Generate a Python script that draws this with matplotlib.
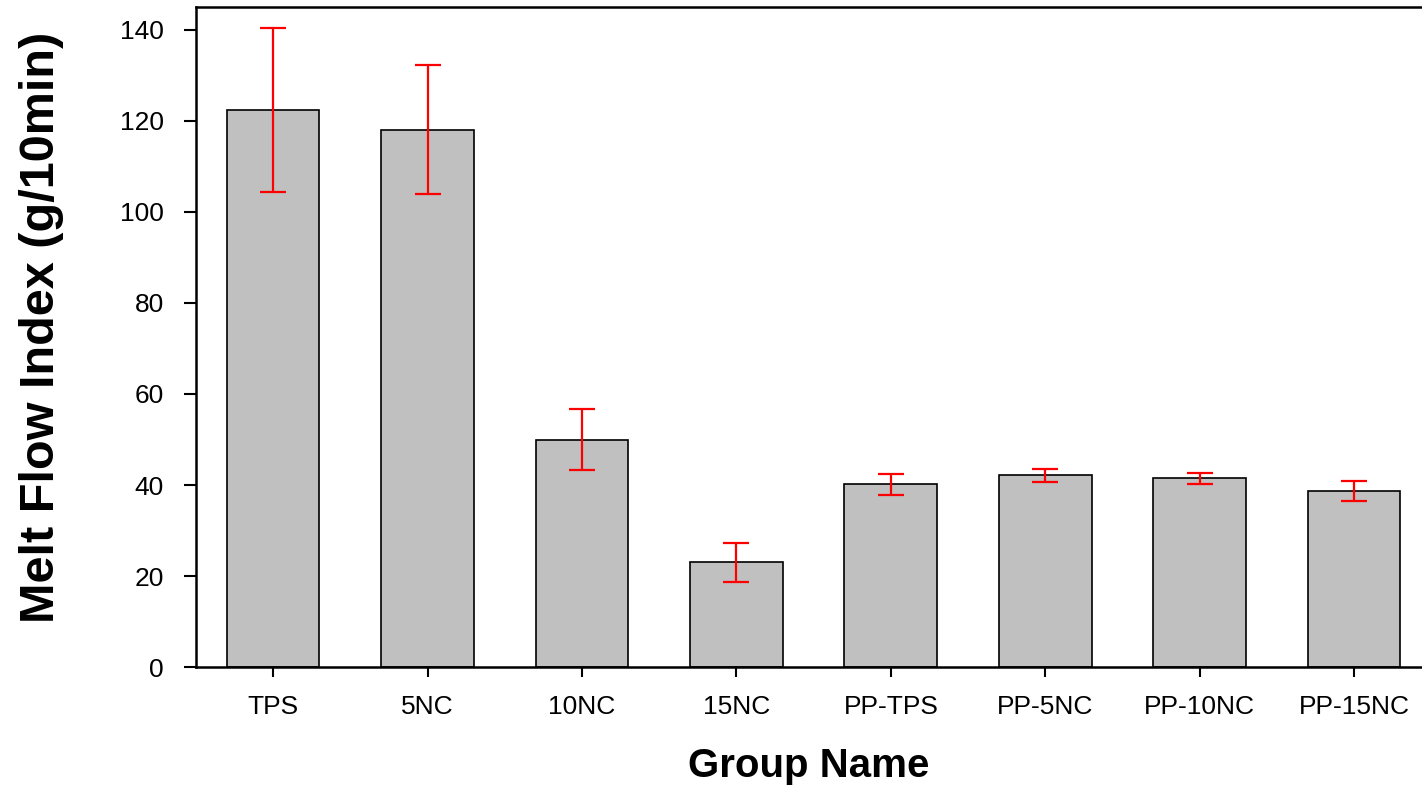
import matplotlib
matplotlib.use("Agg")
import matplotlib.pyplot as plt
import numpy as np

plt.rcParams.update({
    "font.family": ["Liberation Sans", "DejaVu Sans"],
})

# Данные
groups = ["TPS", "5NC", "10NC", "15NC", "PP-TPS", "PP-5NC", "PP-10NC", "PP-15NC"]
mfi = [122.4, 118.1, 50.0, 23.0, 40.2, 42.1, 41.5, 38.6]
mfi_err = [18.1, 14.2, 6.8, 4.3, 2.3, 1.5, 1.2, 2.2]
yticks = [0, 20, 40, 60, 80, 100, 120, 140]

fig = plt.figure(figsize=(14.22, 7.96), dpi=100)
ax = fig.add_axes([0.1378, 0.162, 0.8622, 0.829])

x = np.arange(len(groups))
ax.bar(x, mfi, width=0.6, color="#c0c0c0", edgecolor="black", linewidth=1.2,
       yerr=mfi_err, ecolor="red",
       error_kw=dict(elinewidth=1.6, capsize=9.5, capthick=1.6))

ax.set_xlim(-0.5, 7.44)
ax.set_ylim(0, 145)
ax.set_yticks(yticks)
ax.set_xticks(x)
ax.set_xticklabels(groups)

ax.spines["right"].set_visible(False)
for s in ("left", "bottom", "top"):
    ax.spines[s].set_linewidth(1.8)

ax.tick_params(axis="y", direction="out", length=9, width=1.5,
               labelsize=19, pad=14)
ax.tick_params(axis="x", direction="out", length=7, width=1.5,
               labelsize=19, pad=13)

ax.set_ylabel("Melt Flow Index (g/10min)", fontsize=35, fontweight="bold",
              labelpad=40)
ax.yaxis.label.set_y(0.515)
ax.set_xlabel("Group Name", fontsize=29, fontweight="bold", labelpad=20)

fig.savefig("out.png", dpi=100)
plt.close(fig)
